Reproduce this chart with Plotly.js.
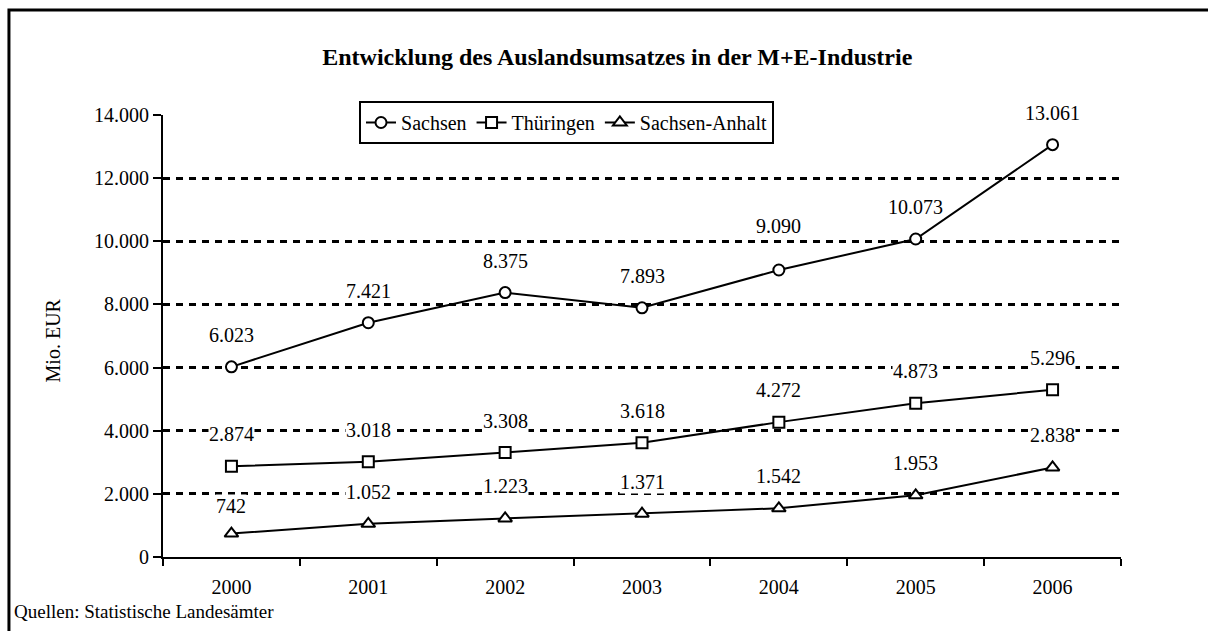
<!DOCTYPE html>
<html>
<head>
<meta charset="utf-8">
<script src="https://cdn.plot.ly/plotly-3.0.1.min.js"></script>
<style>
  html, body { margin: 0; padding: 0; background: #fff; overflow: hidden; }
  #chart { width: 1208px; height: 631px; }
</style>
</head>
<body>
<div id="chart"></div>
<script>
const years = ['2000', '2001', '2002', '2003', '2004', '2005', '2006'];
const sachsen = [6023, 7421, 8375, 7893, 9090, 10073, 13061];
const thueringen = [2874, 3018, 3308, 3618, 4272, 4873, 5296];
const sachsenAnhalt = [742, 1052, 1223, 1371, 1542, 1953, 2838];
const seriesNames = ['Sachsen', 'Thüringen', 'Sachsen-Anhalt'];
const yTicks = [0, 2000, 4000, 6000, 8000, 10000, 12000, 14000];

const FONT = '"Liberation Serif", "Times New Roman", Times, serif';

function fmt(n) {
  const s = String(Math.round(n));
  return s.replace(/\B(?=(\d{3})+(?!\d))/g, '.');
}

const markerSymbols = ['circle', 'square', 'triangle-up'];
const allSeries = [sachsen, thueringen, sachsenAnhalt];

const traces = allSeries.map((vals, i) => ({
  type: 'scatter',
  mode: 'lines+markers',
  name: seriesNames[i],
  x: years,
  y: vals,
  line: { color: '#000', width: 2 },
  marker: {
    symbol: markerSymbols[i],
    size: i === 2 ? 12 : 11,
    color: '#fff',
    line: { color: '#000', width: 2 }
  },
  hoverinfo: 'skip'
}));

const annotations = [];
allSeries.forEach((vals, i) => {
  vals.forEach((v, j) => {
    let shift = 32;
    if (i === 0 && j === 4) shift = 44;
    if (i === 2 && j === 0) shift = 28;
    annotations.push({
      x: j, y: v, xref: 'x', yref: 'y',
      text: fmt(v), showarrow: false, yshift: shift,
      bgcolor: '#fff', borderpad: 0,
      font: { family: FONT, size: 20, color: '#000' }
    });
  });
});

annotations.push({
  xref: 'paper', yref: 'paper', x: -0.1284, y: 0.49,
  text: 'Mio. EUR', textangle: -90, showarrow: false,
  font: { family: FONT, size: 20, color: '#000' }
});
annotations.push({
  xref: 'paper', yref: 'paper', x: -0.1576, y: -0.1244,
  xanchor: 'left', yanchor: 'middle',
  text: 'Quellen: Statistische Landesämter', showarrow: false,
  font: { family: FONT, size: 19, color: '#000' }
});

const layout = {
  width: 1208, height: 631,
  margin: { l: 163, r: 87, t: 115, b: 74 },
  paper_bgcolor: '#fff', plot_bgcolor: '#fff',
  font: { family: FONT, size: 20, color: '#000' },
  title: {
    text: '<b>Entwicklung des Auslandsumsatzes in der M+E-Industrie</b>',
    xref: 'container', yref: 'container', x: 0.511, y: 0.91,
    xanchor: 'center', yanchor: 'middle',
    font: { family: FONT, size: 24, color: '#000' }
  },
  showlegend: true,
  legend: {
    orientation: 'h',
    x: 0.2046, y: 1.0317, xanchor: 'left', yanchor: 'top',
    bgcolor: '#fff', bordercolor: '#000', borderwidth: 2,
    itemwidth: 30,
    font: { family: FONT, size: 20, color: '#000' },
    itemclick: false, itemdoubleclick: false
  },
  xaxis: {
    type: 'category',
    range: [-0.5, 6.5],
    tickson: 'boundaries',
    ticks: 'outside', ticklen: 7, tickwidth: 2, tickcolor: '#000',
    showline: true, linecolor: '#000', linewidth: 2,
    showgrid: false, zeroline: false,
    tickangle: 0,
    ticklabelstandoff: 11,
    tickfont: { family: FONT, size: 20, color: '#000' },
    fixedrange: true
  },
  yaxis: {
    range: [0, 14000],
    tickvals: yTicks,
    ticktext: yTicks.map(fmt),
    ticks: 'outside', ticklen: 8, tickwidth: 2, tickcolor: '#000',
    showline: true, linecolor: '#000', linewidth: 2,
    showgrid: true, gridcolor: '#000', gridwidth: 3, griddash: '7px,6px',
    zeroline: false,
    tickfont: { family: FONT, size: 20, color: '#000' },
    fixedrange: true
  },
  shapes: [{
    type: 'path', xref: 'paper', yref: 'paper',
    path: 'M -0.1608,-0.3 L -0.1608,1.2376 L 1.3,1.2376',
    line: { color: '#000', width: 3 },
    layer: 'below'
  }],
  annotations: annotations,
  hovermode: false
};

Plotly.newPlot('chart', traces, layout, { displayModeBar: false, staticPlot: true });
</script>
</body>
</html>
